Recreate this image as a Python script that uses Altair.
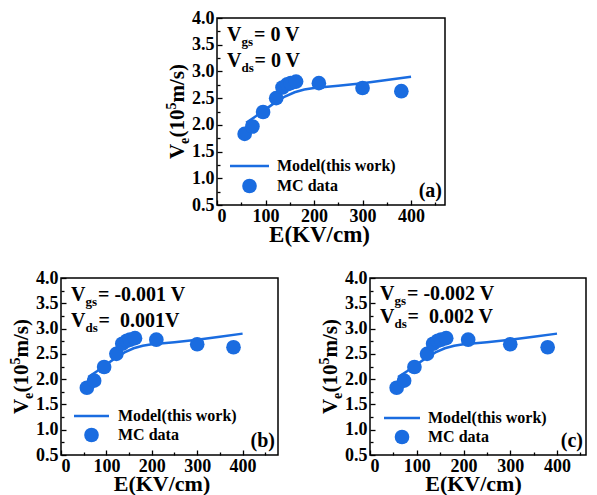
import altair as alt
import pandas as pd

BLUE = "#1a6ce0"
FONT = "Liberation Serif"

# ---- data (same curves in the three panels) ----
E_mc = [57, 73, 95, 122, 135, 145, 152, 163, 210, 300, 380]
V_mc = [1.83, 1.97, 2.24, 2.50, 2.70, 2.76, 2.78, 2.81, 2.78, 2.69, 2.63]
E_model = [60, 80, 100, 120, 140, 160, 180, 200, 250, 300, 350, 400]
V_model = [2.04, 2.16, 2.29, 2.42, 2.53, 2.61, 2.66, 2.69, 2.73, 2.78, 2.84, 2.90]

series = ["Model(this work)", "MC data"]
x_major = [0, 100, 200, 300, 400]
x_minor = [50, 150, 250, 350, 450]
y_major = [0.5, 1.0, 1.5, 2.0, 2.5, 3.0, 3.5, 4.0]
y_minor = [0.75, 1.25, 1.75, 2.25, 2.75, 3.25, 3.75]

panel_tags = ["(a)", "(b)", "(c)"]
vgs_text = ["= 0 V", "= -0.001 V", "= -0.002 V"]
vds_text = ["= 0 V", "=\u00a0 0.001V", "=\u00a0 0.002 V"]
x_max = [470, 478, 462]

# ---- layout (pixels) ----
layout = [
    dict(w=228, h=187, ann_y=(23, 49), leg=dict(x1=13, x2=52, y=148, gap=20, lx=60),
         titleX_shift=-12, xtitle=23),
    dict(w=217, h=177, ann_y=(23, 49), leg=dict(x1=13, x2=48, y=138, gap=19, lx=57),
         titleX_shift=-8, xtitle=22),
    dict(w=216, h=177, ann_y=(22, 45), leg=dict(x1=14, x2=50, y=140, gap=19, lx=58),
         titleX_shift=-5, xtitle=22),
]

model_df = pd.DataFrame({"E": E_model, "V": V_model})
mc_df = pd.DataFrame({"E": E_mc, "V": V_mc})
anchor_df = pd.DataFrame({"a": [0]})


def txt(text, x, y, size, dx=0, dy=0, angle=0, align="left"):
    kw = dict(text=text, font=FONT, fontSize=size, fontWeight="bold", color="black",
              align=align, baseline="alphabetic", dx=dx, dy=dy)
    if angle:
        kw["angle"] = angle
    return alt.Chart(anchor_df).mark_text(**kw).encode(x=alt.value(x), y=alt.value(y))


def panel(i):
    L = layout[i]
    w, h = L["w"], L["h"]
    xs = alt.Scale(domain=[0, x_max[i]], nice=False, zero=False)
    ys = alt.Scale(domain=[0.5, 4.0], nice=False, zero=False)

    major_x = alt.Axis(orient="bottom", values=x_major, format="d", offset=-5, tickSize=5,
                       labelPadding=2, labelFontSize=18, title="E(KV/cm)",
                       titleFontSize=L["xtitle"], titlePadding=-2,
                       titleX=w / 2 + L["titleX_shift"], grid=False, domain=False)
    major_y = alt.Axis(orient="left", values=y_major, format=".1f", offset=-5, tickSize=5,
                       labelPadding=3, labelFontSize=18, title=None, grid=False, domain=False)
    minor_x = alt.Axis(orient="bottom", values=x_minor, offset=-3, tickSize=3, labels=False,
                       title=None, grid=False, domain=False)
    minor_y = alt.Axis(orient="left", values=y_minor, offset=-3, tickSize=3, labels=False,
                       title=None, grid=False, domain=False)

    line = alt.Chart(model_df).mark_line(color=BLUE, strokeWidth=2.5).encode(
        x=alt.X("E:Q", scale=xs, axis=major_x),
        y=alt.Y("V:Q", scale=ys, axis=major_y),
    )
    pts = alt.Chart(mc_df).mark_circle(color=BLUE, size=215, opacity=1).encode(
        x=alt.X("E:Q", scale=xs, axis=minor_x),
        y=alt.Y("V:Q", scale=ys, axis=minor_y),
    )

    layers = [line, pts]

    # legend (drawn inside the plot, bottom-left)
    lg = L["leg"]
    layers += [
        alt.Chart(anchor_df).mark_rule(color=BLUE, strokeWidth=2.5).encode(
            x=alt.value(lg["x1"]), x2=alt.value(lg["x2"]), y=alt.value(lg["y"])),
        alt.Chart(anchor_df).mark_circle(color=BLUE, size=215, opacity=1).encode(
            x=alt.value((lg["x1"] + lg["x2"]) / 2), y=alt.value(lg["y"] + lg["gap"])),
        txt(series[0], lg["lx"], lg["y"] + 5, 16),
        txt(series[1], lg["lx"], lg["y"] + lg["gap"] + 5, 16),
    ]

    # annotation Vgs / Vds
    a1, a2 = L["ann_y"]
    layers += [txt("V", 10, a1, 20), txt("gs", 10, a1, 13, dx=14.5, dy=5),
               txt(vgs_text[i], 10, a1, 20, dx=27)]
    layers += [txt("V", 10, a2, 20), txt("ds", 10, a2, 13, dx=14.5, dy=5),
               txt(vds_text[i], 10, a2, 20, dx=27.5)]
    # panel tag
    layers += [txt(panel_tags[i], w - 3, h - 8, 20, align="right")]
    # y-axis title V_e(10^5 m/s), rotated
    ty = h / 2 + 47.5
    tx = -33
    layers += [txt("V", tx, ty, 21, angle=270),
               txt("e", tx, ty, 14, dx=15, dy=5, angle=270),
               txt("(10", tx, ty, 21, dx=21.5, angle=270),
               txt("5", tx, ty, 14, dx=49.5, dy=-8, angle=270),
               txt("m/s)", tx, ty, 21, dx=56.5, angle=270)]

    return alt.layer(*layers).resolve_axis(x="independent", y="independent").properties(
        width=w, height=h)


spacer = alt.Chart(anchor_df).mark_point(opacity=0).encode(
    x=alt.X("a:Q", axis=None), y=alt.Y("a:Q", axis=None)
).properties(width=102, height=1, view=alt.ViewBackground(stroke="transparent"))

top = alt.hconcat(spacer, panel(0), spacing=0)
bottom = alt.hconcat(panel(1), panel(2), spacing=38)

chart = alt.vconcat(top, bottom, spacing=21).properties(padding=0).configure_view(
    stroke="black", strokeWidth=1.5
).configure_axis(
    labelFont=FONT, labelFontWeight="bold", labelColor="black",
    titleFont=FONT, titleFontWeight="bold", titleColor="black",
    tickColor="black", tickWidth=1.3,
)

chart.save("out.html", embed_options={"renderer": "svg", "actions": False})
